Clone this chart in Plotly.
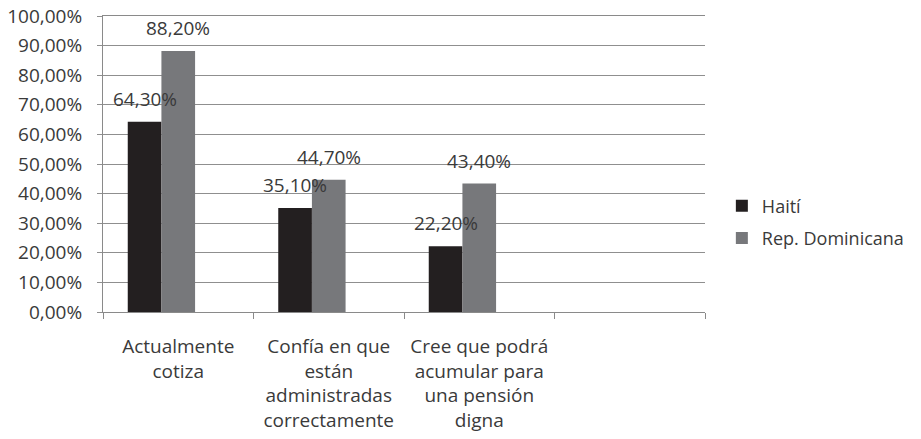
import plotly.graph_objects as go

categories = ["Actualmente<br>cotiza",
              "Confía en que<br>están<br>administradas<br>correctamente",
              "Cree que podrá<br>acumular para<br>una pensión<br>digna",
              ""]
haiti = [0.643, 0.351, 0.222]
rep_dom = [0.882, 0.447, 0.434]
y_ticks = [i / 10 for i in range(11)]

FONT = "Open Sans, sans-serif"
TXT = "#3a3a3a"
C_HAITI = "#231f20"
C_REP = "#77787b"

xpos = list(range(len(categories)))
xbar = xpos[:len(haiti)]
w = 0.2237  # bar width as fraction of a category slot (3 slots per group, 3rd empty)

fig = go.Figure()
fig.add_trace(go.Bar(x=xbar, y=haiti, name="Haití", marker_color=C_HAITI,
                     marker_line_width=0, legendgroup="h",
                     width=w, offset=-1.5 * w))
fig.add_trace(go.Bar(x=xbar, y=rep_dom, name="Rep. Dominicana", marker_color=C_REP,
                     marker_line_width=0, legendgroup="r",
                     width=w, offset=-0.5 * w))

annotations = []
for i in xbar:
    for vals, off in ((haiti, -w), (rep_dom, 0.0)):
        v = vals[i]
        annotations.append(dict(
            x=i + off, y=v, xref="x", yref="y",
            text=f"{v*100:.2f}".replace(".", ",") + "%",
            showarrow=False, yanchor="middle", yshift=23,
            font=dict(family=FONT, size=19, color=TXT)))

fig.update_layout(
    width=921, height=439,
    margin=dict(l=103, r=209, t=16, b=127),
    paper_bgcolor="white", plot_bgcolor="white",
    barmode="overlay",
    separators=",.",
    showlegend=True,
    legend=dict(x=1.028, y=0.304, xanchor="left", yanchor="middle",
                font=dict(family=FONT, size=18, color=TXT),
                itemwidth=30, tracegroupgap=6, traceorder="grouped",
                bgcolor="rgba(0,0,0,0)"),
    annotations=annotations,
    xaxis=dict(
        range=[-0.5, 3.5], automargin=False,
        tickmode="array", tickvals=xpos, ticktext=categories,
        ticks="", showgrid=False, ticklabelstandoff=17, tickangle=0,
        showline=True, linecolor="#8a8a8a", linewidth=1, mirror=True,
        tickfont=dict(family=FONT, size=19, color=TXT),
        minor=dict(tickmode="linear", tick0=-0.5, dtick=1, ticks="outside",
                   ticklen=6, tickcolor="#8a8a8a", showgrid=False),
        zeroline=False,
    ),
    yaxis=dict(
        range=[0, 1], tickmode="array", tickvals=y_ticks, automargin=False,
        tickformat=".2%", ticklabeloverflow="allow",
        showgrid=True, gridcolor="#8f8f8f", gridwidth=1,
        showline=True, linecolor="#8a8a8a", linewidth=1,
        ticks="outside", ticklen=5, tickcolor="#8f8f8f", ticklabelstandoff=11,
        tickfont=dict(family=FONT, size=19, color=TXT),
        zeroline=False,
    ),
)

fig.write_html("out.html", config={"displayModeBar": False},
               post_script="document.body.style.margin='0';")
